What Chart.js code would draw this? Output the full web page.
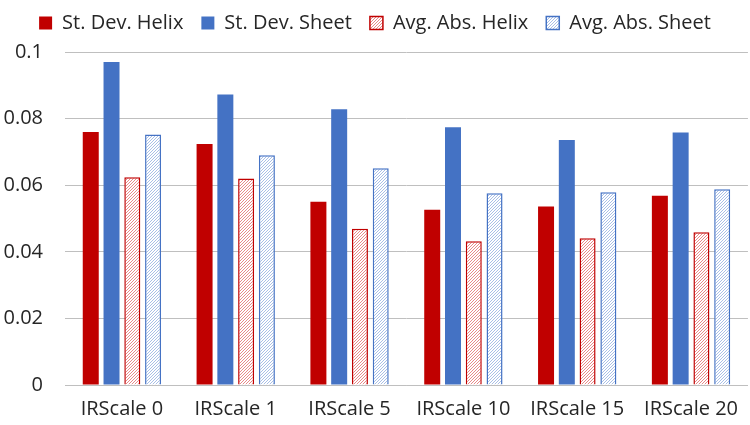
<!DOCTYPE html>
<html>
<head>
<meta charset="utf-8">
<script src="https://cdn.jsdelivr.net/npm/chart.js@4.4.1/dist/chart.umd.min.js"></script>
<style>
  html, body { margin: 0; padding: 0; background: #ffffff; }
  #wrap { width: 750px; height: 425px; }
</style>
</head>
<body>
<div id="wrap"><canvas id="irChart"></canvas></div>
<script>
// ======================================
// Data
// ======================================

const categories = ["IRScale 0", "IRScale 1", "IRScale 5", "IRScale 10", "IRScale 15", "IRScale 20"];

const stDevHelix = [0.0760, 0.0724, 0.0550, 0.0526, 0.0536, 0.0568];
const stDevSheet = [0.0970, 0.0872, 0.0828, 0.0774, 0.0736, 0.0758];
const avgAbsHelix = [0.0624, 0.0620, 0.0469, 0.0432, 0.0441, 0.0459];
const avgAbsSheet = [0.0752, 0.0690, 0.0651, 0.0576, 0.0579, 0.0588];

const yTicks = [0, 0.02, 0.04, 0.06, 0.08, 0.1];

// ======================================
// Colours & hatch patterns
// ======================================

const RED = "#c00000";
const BLUE = "#4472c4";

function makeHatch(lineColor) {
    const size = 3;
    const c = document.createElement("canvas");
    c.width = size;
    c.height = size;
    const ctx = c.getContext("2d");
    ctx.fillStyle = "#ffffff";
    ctx.fillRect(0, 0, size, size);
    ctx.strokeStyle = lineColor;
    ctx.lineWidth = 1;
    ctx.beginPath();
    ctx.moveTo(0, size);
    ctx.lineTo(size, 0);
    ctx.moveTo(-1, 1);
    ctx.lineTo(1, -1);
    ctx.moveTo(size - 1, size + 1);
    ctx.lineTo(size + 1, size - 1);
    ctx.stroke();
    return ctx.createPattern(c, "repeat");
}

const redHatch = makeHatch("#e88a8a");
const blueHatch = makeHatch("#a9bfe6");

// legend: a bit less room above, same room below
const legendShift = {
    id: "legendShift",
    afterInit(chart) {
        const fit = chart.legend.fit;
        chart.legend.fit = function () {
            fit.call(this);
            this.height += 2;
        };
    },
    afterLayout(chart) {
        chart.legend.top -= 7;
        chart.legend.bottom -= 7;
    }
};

// ======================================
// Chart
// ======================================

const FONT = "'Open Sans', 'Noto Sans', sans-serif";
const TEXT = "#262626";

new Chart(document.getElementById("irChart"), {

    type: "bar",

    data: {
        labels: categories,
        datasets: [
            { label: "St. Dev. Helix", data: stDevHelix, backgroundColor: RED, borderColor: RED, borderWidth: 0 },
            { label: "St. Dev. Sheet", data: stDevSheet, backgroundColor: BLUE, borderColor: BLUE, borderWidth: 0 },
            { label: "Avg. Abs. Helix", data: avgAbsHelix, backgroundColor: redHatch, borderColor: RED, borderWidth: 1.5 },
            { label: "Avg. Abs. Sheet", data: avgAbsSheet, backgroundColor: blueHatch, borderColor: BLUE, borderWidth: 1.5 }
        ]
    },

    plugins: [legendShift],

    options: {
        responsive: true,
        maintainAspectRatio: false,
        animation: false,
        categoryPercentage: 0.73,
        barPercentage: 0.77,
        layout: { padding: { left: 0, right: 0, top: 2, bottom: 0 } },
        plugins: {
            legend: {
                position: "top",
                labels: {
                    color: TEXT,
                    font: { family: FONT, size: 20 },
                    boxWidth: 13,
                    boxHeight: 13,
                    padding: 18
                }
            },
            tooltip: { enabled: false }
        },
        scales: {
            x: {
                grid: { display: false, drawTicks: false },
                border: { color: "#bfbfbf", width: 1 },
                ticks: { color: TEXT, font: { family: FONT, size: 20 }, padding: 12 },
                afterFit: (axis) => { axis.height = 40; }
            },
            y: {
                min: 0,
                max: 0.1,
                afterBuildTicks: (axis) => {
                    axis.ticks = yTicks.map(v => ({ value: v }));
                },
                afterFit: (axis) => { axis.width = 65; },
                grid: { color: "#bfbfbf", lineWidth: 1, drawTicks: false },
                border: { display: false },
                ticks: {
                    color: TEXT,
                    font: { family: FONT, size: 20 },
                    padding: 22,
                    callback: (v) => String(v)
                }
            }
        }
    }
});
</script>
</body>
</html>
